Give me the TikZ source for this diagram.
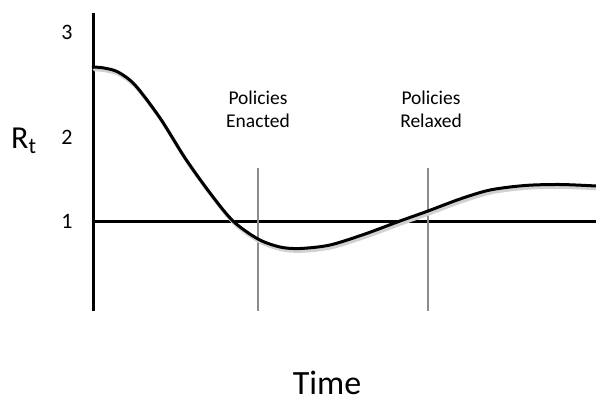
\documentclass[tikz,border=0pt]{standalone}
\usepackage{fontspec}
\setmainfont{Carlito}
\begin{document}
\begin{tikzpicture}[x=1pt,y=-1pt,
  axisline/.style={line width=3pt,black},
  policyline/.style={line width=1.2pt,black!45},
  curveline/.style={line width=3pt,black,line cap=round},
  curveshade/.style={line width=3.6pt,black!18,line cap=round},
  ticklabel/.style={font=\fontsize{22}{26}\selectfont,anchor=center,inner sep=0pt},
  policylabel/.style={font=\fontsize{19.5}{23}\selectfont,align=center,inner sep=0pt},
  axislabel/.style={inner sep=0pt}]
\useasboundingbox (0,0) rectangle (596,401);

% axes
\coordinate (ytop) at (93,13);
\coordinate (ybot) at (93,311);
\coordinate (hleft) at (93,221);
\coordinate (hright) at (596,221);
\draw[axisline] (ytop) -- (ybot);
\draw[axisline] (hleft) -- (hright);

% policy markers
\coordinate (enTop) at (258,168);
\coordinate (enBot) at (258,311);
\coordinate (reTop) at (428,168);
\coordinate (reBot) at (428,311);
\draw[policyline] (enTop) -- (enBot);
\draw[policyline] (reTop) -- (reBot);

% R_t curve with a soft shade beneath
\draw[curveshade] plot[smooth,tension=0.5] coordinates {(94.5,69.5) (105.5,70.5) (119.5,74.5) (136.5,87.5) (161.5,120.5) (186.5,160.5) (211.5,195.5)
  (234.5,223.5) (259.5,241.5) (281.5,249.5) (301.5,251) (331.5,247.5) (366.5,236.5) (401.5,223.5)
  (429.5,213.5) (461.5,201.5) (491.5,192.5) (526.5,188) (561.5,187) (596,188.5)};
\draw[curveline] plot[smooth,tension=0.5] coordinates {(93,67) (104,68) (118,72) (135,85) (160,118) (185,158) (210,193)
  (233,221) (258,239) (280,247) (300,248.5) (330,245) (365,234) (400,221)
  (428,211) (460,199) (490,190) (525,185.5) (560,184.5) (596,186)};

% tick labels
\node[ticklabel] (t3) at (67,32) {3};
\node[ticklabel] (t2) at (67,137) {2};
\node[ticklabel] (t1) at (67,221) {1};

% axis labels
\node[axislabel,anchor=base west,font=\fontsize{32}{36}\selectfont] (rt) at (11,148) {R\textsubscript{t}};
\node[axislabel,anchor=base,font=\fontsize{34}{40}\selectfont] (time) at (327,394) {Time};

% policy labels
\node[policylabel,anchor=base] (enacted) at (258,127) {Policies\\Enacted};
\node[policylabel,anchor=base] (relaxed) at (431,127) {Policies\\Relaxed};
\end{tikzpicture}
\end{document}
